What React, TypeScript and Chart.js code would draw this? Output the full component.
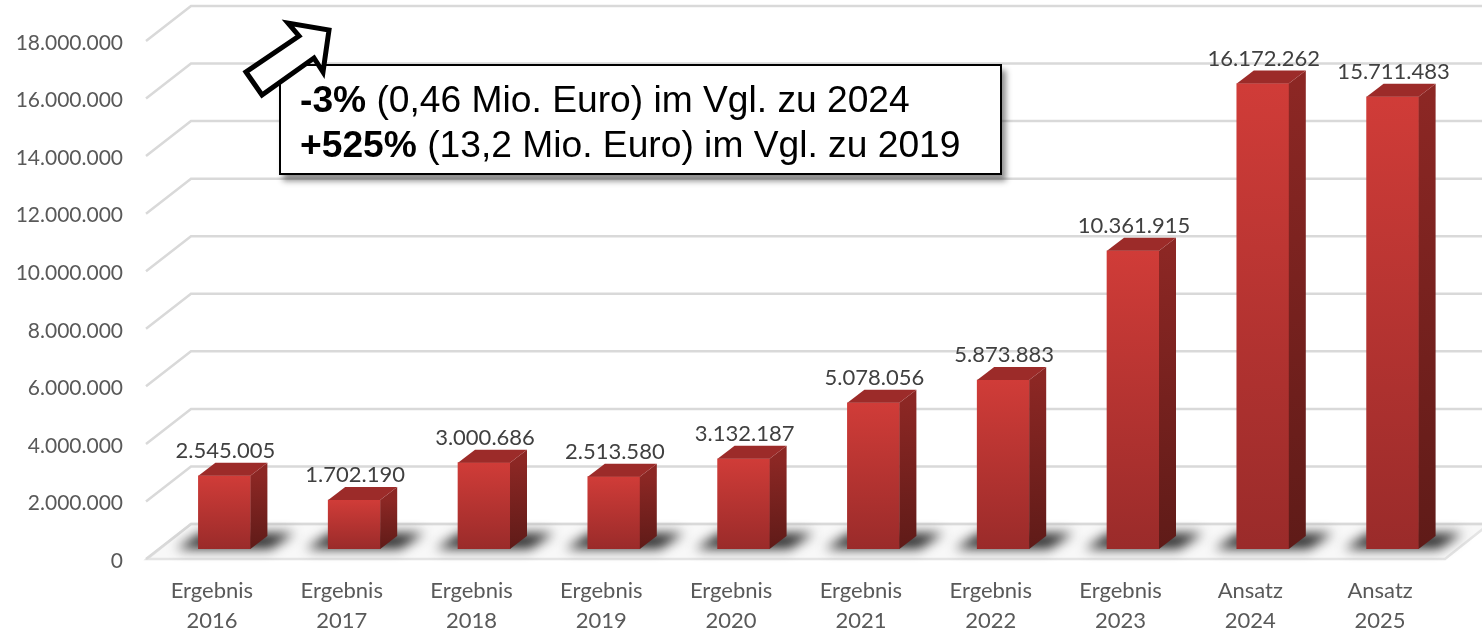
import React, { useEffect, useRef } from "react";
import { Chart, registerables } from "chart.js";

Chart.register(...registerables);

const categories: string[][] = [
  ["Ergebnis", "2016"], ["Ergebnis", "2017"], ["Ergebnis", "2018"], ["Ergebnis", "2019"], ["Ergebnis", "2020"],
  ["Ergebnis", "2021"], ["Ergebnis", "2022"], ["Ergebnis", "2023"], ["Ansatz", "2024"], ["Ansatz", "2025"],
];
const values: number[] = [2545005, 1702190, 3000686, 2513580, 3132187, 5078056, 5873883, 10361915, 16172262, 15711483];

const axisMax = 18000000;
const axisStep = 2000000;
const fontFamily = "Lato, 'Open Sans', sans-serif";
const textColor = "#595959";
const gridColor = "#d9d9d9";

// projection of the pseudo-3D box
const wallDx = 44, wallDy = -35;      // front axis -> back wall
const barDx = 12.5, barDy = -10;      // front axis -> bar front plane
const sideDx = 17, sideDy = -13;      // bar depth

const fmt = (n: number) => String(n).replace(/\B(?=(\d{3})+(?!\d))/g, ".");

const box3d = {
  id: "box3d",
  beforeDatasetsDraw(chart: any) {
    const { ctx, chartArea: a, scales: { y } } = chart;
    ctx.save();
    ctx.lineCap = "butt";
    ctx.lineJoin = "miter";
    // floor
    const y0 = y.getPixelForValue(0);
    ctx.beginPath();
    ctx.moveTo(a.left, y0);
    ctx.lineTo(a.right, y0);
    ctx.lineTo(a.right + wallDx, y0 + wallDy);
    ctx.lineTo(a.left + wallDx, y0 + wallDy);
    ctx.closePath();
    ctx.fillStyle = "#f8f8f8";
    ctx.fill();
    ctx.strokeStyle = "#e4e4e4";
    ctx.lineWidth = 2.5;
    ctx.stroke();
    // grid: front edge -> back wall
    ctx.strokeStyle = gridColor;
    ctx.lineWidth = 2.5;
    for (const t of y.ticks) {
      const py = y.getPixelForValue(t.value);
      ctx.beginPath();
      ctx.moveTo(a.left - 1, py);
      ctx.lineTo(a.left + wallDx, py + wallDy);
      ctx.lineTo(a.right + wallDx, py + wallDy);
      ctx.stroke();
    }
    // floor shadows
    const meta = chart.getDatasetMeta(0);
    ctx.save();
    ctx.filter = "blur(6px)";
    ctx.fillStyle = "rgba(35,35,35,0.95)";
    for (const el of meta.data) {
      const half = el.width / 2;
      const xl = el.x - half + barDx;
      const xr = el.x + half + barDx;
      const by = el.base + barDy;
      ctx.beginPath();
      ctx.moveTo(xl - 22, by);
      ctx.lineTo(xr + 20, by);
      ctx.lineTo(xr + 44, by - 16);
      ctx.lineTo(xl + 2, by - 16);
      ctx.closePath();
      ctx.fill();
    }
    ctx.restore();
    ctx.restore();
    ctx.save();
    ctx.translate(barDx, barDy);
  },
  afterDatasetsDraw(chart: any) {
    const { ctx } = chart;
    ctx.restore();
    ctx.save();
    const meta = chart.getDatasetMeta(0);
    meta.data.forEach((el: any, i: number) => {
      const half = el.width / 2;
      const l = el.x - half + barDx;
      const r = el.x + half + barDx;
      const top = el.y + barDy;
      const bottom = el.base + barDy;
      const side = ctx.createLinearGradient(0, top, 0, bottom);
      side.addColorStop(0, "#8c2724");
      side.addColorStop(1, "#5f1b18");
      ctx.fillStyle = side;
      ctx.beginPath();
      ctx.moveTo(r, top);
      ctx.lineTo(r + sideDx, top + sideDy);
      ctx.lineTo(r + sideDx, bottom + sideDy);
      ctx.lineTo(r, bottom);
      ctx.closePath();
      ctx.fill();
      ctx.fillStyle = "#9c2b29";
      ctx.beginPath();
      ctx.moveTo(l, top);
      ctx.lineTo(l + sideDx, top + sideDy);
      ctx.lineTo(r + sideDx, top + sideDy);
      ctx.lineTo(r, top);
      ctx.closePath();
      ctx.fill();
      ctx.fillStyle = "#404040";
      ctx.font = `22px ${fontFamily}`;
      ctx.textAlign = "center";
      ctx.textBaseline = "middle";
      ctx.fillText(fmt(values[i]), el.x + barDx + 1, top - 25);
    });
    ctx.restore();
  },
};

export default function App() {
  const ref = useRef<HTMLCanvasElement>(null);
  useEffect(() => {
    const chart = new Chart(ref.current as HTMLCanvasElement, {
      type: "bar",
      data: {
        labels: categories,
        datasets: [{
          data: values,
          barThickness: 52,
          borderWidth: 0,
          backgroundColor: (c: any) => {
            const ch = c.chart;
            const y = ch.scales?.y;
            if (!y || !ch.chartArea || c.raw === undefined) return "#b53331";
            const g = ch.ctx.createLinearGradient(0, y.getPixelForValue(c.raw), 0, y.getPixelForValue(0));
            g.addColorStop(0, "#d03c38");
            g.addColorStop(1, "#9a2b2a");
            return g;
          },
        }],
      },
      options: {
        responsive: false,
        animation: false,
        layout: { padding: { top: 41, right: 37, left: 0, bottom: 0 } },
        plugins: { legend: { display: false }, tooltip: { enabled: false }, title: { display: false } },
        scales: {
          x: {
            grid: { display: false },
            border: { display: false },
            afterFit: (s: any) => { s.height = 71; },
            ticks: { color: textColor, font: { family: fontFamily, size: 22, lineHeight: 1.36 }, padding: 9, maxRotation: 0 },
          },
          y: {
            min: 0,
            max: axisMax,
            grid: { display: false },
            border: { display: false },
            afterFit: (s: any) => { s.width = 147; },
            ticks: {
              stepSize: axisStep,
              color: textColor,
              padding: 16,
              labelOffset: 2,
              font: { family: fontFamily, size: 21 },
              callback: (v: any) => fmt(Number(v)),
            },
          },
        },
      },
      plugins: [box3d],
    } as any);
    return () => chart.destroy();
  }, []);

  return (
    <div style={{ position: "fixed", left: 0, top: 0, width: 1482, height: 630, background: "#fff", overflow: "hidden" }}>
      <canvas ref={ref} width={1482} height={630} style={{ display: "block" }} />
      <div style={{
        position: "absolute", left: 279, top: 64, width: 723, height: 111, boxSizing: "border-box",
        background: "#fff", border: "2px solid #000", boxShadow: "4px 6px 6px rgba(0,0,0,0.45)",
        fontFamily: "'Liberation Sans', Arial, sans-serif", fontSize: 37.2, lineHeight: "45px", color: "#000",
        padding: "11px 0 0 19px", whiteSpace: "nowrap",
      }}>
        <div><b>-3%</b> (0,46 Mio. Euro) im Vgl. zu 2024</div>
        <div><b>+525%</b> (13,2 Mio. Euro) im Vgl. zu 2019</div>
      </div>
      <svg width={1482} height={630} style={{ position: "absolute", left: 0, top: 0, pointerEvents: "none" }}>
        <polygon points="246,72 262,95 314,58 323,72 329,30 288,23 299,36" fill="#fff" stroke="#000" strokeWidth={5} />
      </svg>
    </div>
  );
}
